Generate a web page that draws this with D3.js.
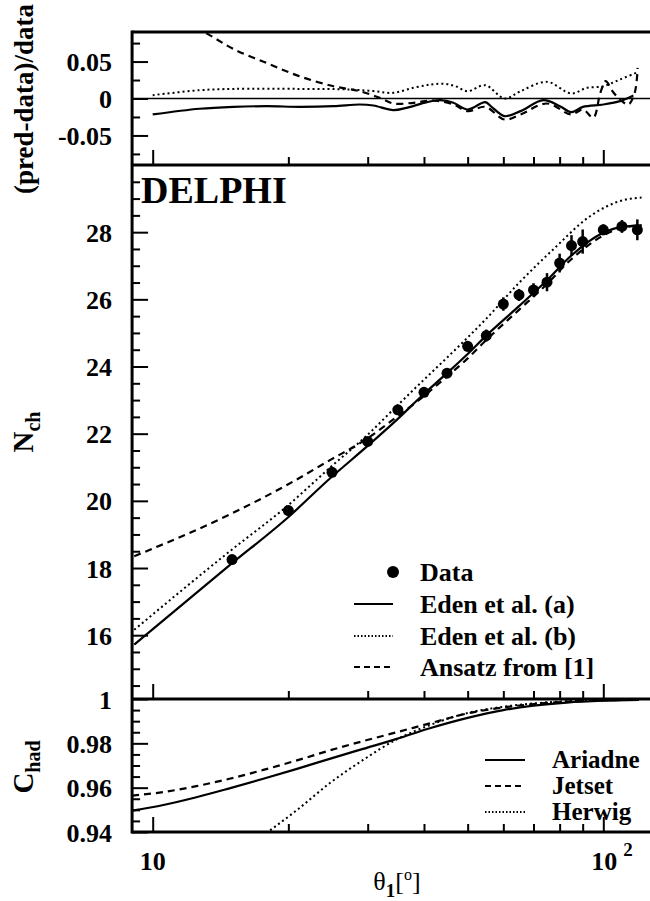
<!DOCTYPE html>
<html>
<head>
<meta charset="utf-8">
<script src="https://cdn.jsdelivr.net/npm/d3@7"></script>
<style>
body { margin: 0; background: #fff; }
svg text { font-family: "Liberation Serif", "Times New Roman", Times, "Nimbus Roman", "DejaVu Serif", serif !important; font-weight: bold; fill: #000; }
svg text .rm { font-weight: normal; }
</style>
</head>
<body>
<svg width="650" height="901"></svg>
<script>
// measured data points (theta in degrees, mean charged multiplicity)
var dataTheta = [15, 20, 25, 30, 35, 40, 45, 50, 55, 60, 65, 70, 75, 80, 85, 90, 100, 110, 119];
var dataNch   = [18.25, 19.71, 20.85, 21.77, 22.71, 23.23, 23.80, 24.60, 24.92, 25.86, 26.13, 26.28, 26.51, 27.08, 27.60, 27.72, 28.07, 28.17, 28.07];
var dataErr   = [0.1, 0.1, 0.1, 0.1, 0.12, 0.12, 0.13, 0.16, 0.18, 0.2, 0.18, 0.2, 0.27, 0.28, 0.31, 0.36, 0.16, 0.19, 0.31];

// predictions in the middle panel
var predTheta = [9.1, 14.8, 19.9, 24.8, 29.9, 34.8, 39.8, 44.8, 49.8, 54.7, 64.9, 74.5, 84.7, 100, 109.4, 121.6];
var edenA     = [15.72, 18.08, 19.49, 20.68, 21.62, 22.41, 23.16, 23.78, 24.35, 24.89, 25.79, 26.53, 27.29, 27.98, 28.15, 28.2];
var ansatz    = [18.35, 19.59, 20.48, 21.22, 21.85, 22.5, 23.1, 23.68, 24.22, 24.76, 25.68, 26.42, 27.18, 27.9, 28.12, 28.2];
var edenBTheta = [9.1, 14.8, 19.9, 24.8, 29.9, 34.8, 39.8, 44.8, 49.8, 54.7, 64.9, 77.9, 93.1, 111.2, 121.6];
var edenB      = [16.16, 18.49, 19.85, 21.0, 21.95, 22.82, 23.58, 24.24, 24.84, 25.39, 26.48, 27.52, 28.46, 28.96, 29.03];

// (pred-data)/data, top panel
var resATheta = [10, 12.7, 15.1, 17.9, 21.2, 25.2, 28.8, 30.9, 34.2, 36.6, 40.6, 43.5, 46.5, 50.0, 54.7, 56.5, 60.4, 65.5, 73.6, 80.1, 84.9, 90.1, 100, 108.9, 116.6];
var resA      = [-0.0216, -0.0139, -0.0113, -0.0104, -0.0113, -0.0104, -0.0081, -0.0095, -0.0158, -0.0126, -0.005, -0.0023, -0.0058, -0.0149, -0.005, -0.0113, -0.0239, -0.0171, -0.0023, -0.0104, -0.0185, -0.0113, -0.0081, -0.0036, 0.004];
var resBTheta = [10, 12.7, 15.1, 21.2, 27.4, 30.9, 34.2, 37.9, 41.5, 44.5, 47, 50, 54.7, 60.4, 65.5, 75.0, 84.9, 91.8, 100, 108.9, 118.3];
var resB      = [0.0045, 0.0112, 0.013, 0.013, 0.0122, 0.010, 0.0077, 0.0145, 0.019, 0.0198, 0.0166, 0.0099, 0.018, 0.0, 0.0099, 0.0225, 0.0068, 0.0144, 0.0166, 0.0257, 0.0347];
var resCTheta = [10, 11.5, 13.2, 15.1, 17.9, 21.2, 25.2, 28.8, 31.9, 34.2, 37.9, 41.9, 46.5, 50.0, 54.7, 60.4, 65.5, 75.0, 84.9, 90.1, 95.0, 98.5, 101.2, 104.8, 108.9, 113.7, 117.4, 119.2];
var resC      = [0.125, 0.105, 0.0878, 0.067, 0.048, 0.030, 0.0166, 0.0099, 0.001, -0.0068, -0.0058, -0.0027, -0.0081, -0.0171, -0.0113, -0.0284, -0.0216, -0.0068, -0.0216, -0.0149, -0.026, 0.0077, 0.0234, 0.0099, -0.0014, -0.008, 0.0077, 0.0415];

// hadronisation correction, bottom panel
var chadTheta = [9, 10.56, 12.5, 14.8, 17.6, 20.9, 24.7, 29.3, 34.8, 41.2, 50, 60, 70, 83, 100, 120];
var ariadne   = [0.9496, 0.9522, 0.9557, 0.9597, 0.964, 0.9685, 0.973, 0.9775, 0.982, 0.9868, 0.9915, 0.995, 0.997, 0.9984, 0.9992, 0.9996];
var jetset    = [0.9564, 0.958, 0.9607, 0.964, 0.968, 0.9723, 0.9768, 0.981, 0.985, 0.989, 0.9935, 0.9962, 0.9977, 0.9988, 0.9994, 0.9997];
var herwigTheta = [17.5, 18.05, 20.9, 24.7, 29.3, 34.8, 41.2, 50, 60, 70, 83, 100, 120];
var herwig      = [0.938, 0.9401, 0.9499, 0.962, 0.9725, 0.9818, 0.9882, 0.9937, 0.9965, 0.998, 0.999, 0.9995, 0.9998];

var legendMid = ["Data", "Eden et al. (a)", "Eden et al. (b)", "Ansatz from [1]"];
var legendBot = ["Ariadne", "Jetset", "Herwig"];

var zip = function(a, b) { return a.map(function(v, i) { return [v, b[i]]; }); };

var svg = d3.select("svg");

// shared log x axis
var x = d3.scaleLog().domain([10, 100]).range([152.7, 603.3]);
var xL = x(9), xR = 660;

var yTop = d3.scaleLinear().domain([-0.09, 0.09]).range([165, 32]);
var yMid = d3.scaleLinear().domain([14.1, 30]).range([699, 165]);
var yBot = d3.scaleLinear().domain([0.94, 1]).range([832, 699]);

var styles = {
    solid:  { dash: null, w: 2.2 },
    dashed: { dash: "7,5", w: 2.2 },
    dotted: { dash: "2,3", w: 2 }
};

// clip each panel
var defs = svg.append("defs");
[["clipTop", yTop], ["clipMid", yMid], ["clipBot", yBot]].forEach(function(p) {
    var r = p[1].range();
    defs.append("clipPath").attr("id", p[0])
        .append("rect")
        .attr("x", xL).attr("y", r[1])
        .attr("width", xR - xL).attr("height", r[0] - r[1]);
});

function drawCurve(g, y, pts, st, curve) {
    var line = d3.line()
        .x(function(d) { return x(d[0]); })
        .y(function(d) { return y(d[1]); })
        .curve(curve || d3.curveMonotoneX);
    g.append("path")
        .datum(pts)
        .attr("fill", "none")
        .attr("stroke", "#000")
        .attr("stroke-width", st.w)
        .attr("stroke-dasharray", st.dash)
        .attr("d", line);
}

// y axis: major ticks with labels, minor ticks without
function yAxis(y, major, minor, fmt) {
    svg.append("g")
        .attr("transform", "translate(" + xL + ",0)")
        .call(d3.axisLeft(y).tickValues(minor).tickSize(-8).tickFormat(""))
        .call(function(g) { g.select(".domain").remove(); })
        .selectAll("line").attr("stroke-width", 2);
    var g = svg.append("g")
        .attr("transform", "translate(" + xL + ",0)")
        .call(d3.axisLeft(y).tickValues(major).tickSize(-16).tickPadding(20).tickFormat(fmt));
    g.select(".domain").remove();
    g.selectAll("line").attr("stroke-width", 2);
    g.selectAll("text").attr("font-size", 26).attr("dy", "0.35em");
}

// x ticks along the bottom of each panel, pointing up
function xTicks(yPos) {
    var minor = [20, 30, 40, 50, 60, 70, 80, 90];
    svg.append("g")
        .attr("transform", "translate(0," + yPos + ")")
        .call(d3.axisBottom(x).tickValues(minor).tickSize(-8).tickFormat(""))
        .call(function(g) { g.select(".domain").remove(); })
        .selectAll("line").attr("stroke-width", 2);
    svg.append("g")
        .attr("transform", "translate(0," + yPos + ")")
        .call(d3.axisBottom(x).tickValues([10, 100]).tickSize(-15).tickFormat(""))
        .call(function(g) { g.select(".domain").remove(); })
        .selectAll("line").attr("stroke-width", 2);
}

// ---- top panel
var gTop = svg.append("g").attr("clip-path", "url(#clipTop)");
gTop.append("line")
    .attr("x1", xL).attr("x2", xR)
    .attr("y1", yTop(0)).attr("y2", yTop(0))
    .attr("stroke", "#000").attr("stroke-width", 1.5);
var smooth = d3.curveCatmullRom.alpha(0.5);
drawCurve(gTop, yTop, zip(resATheta, resA), styles.solid, smooth);
drawCurve(gTop, yTop, zip(resBTheta, resB), styles.dotted, smooth);
drawCurve(gTop, yTop, zip(resCTheta, resC), styles.dashed, smooth);
yAxis(yTop, [-0.05, 0, 0.05], [-0.075, -0.025, 0.025, 0.075],
      function(d) { return d === 0 ? "0" : d3.format(".2f")(d).replace("−", "-"); });
xTicks(165);

// ---- middle panel
var gMid = svg.append("g").attr("clip-path", "url(#clipMid)");
drawCurve(gMid, yMid, zip(predTheta, edenA), styles.solid);
drawCurve(gMid, yMid, zip(edenBTheta, edenB), styles.dotted);
drawCurve(gMid, yMid, zip(predTheta, ansatz), styles.dashed);

var pts = gMid.selectAll(".pt").data(dataTheta.map(function(t, i) {
    return { t: t, v: dataNch[i], e: dataErr[i] };
})).enter().append("g");
pts.append("line")
    .attr("x1", function(d) { return x(d.t); })
    .attr("x2", function(d) { return x(d.t); })
    .attr("y1", function(d) { return yMid(d.v - d.e); })
    .attr("y2", function(d) { return yMid(d.v + d.e); })
    .attr("stroke", "#000").attr("stroke-width", 2.5);
pts.append("circle")
    .attr("cx", function(d) { return x(d.t); })
    .attr("cy", function(d) { return yMid(d.v); })
    .attr("r", 5.5).attr("fill", "#000");

var midMinor = d3.range(14.5, 30.01, 0.5).filter(function(v) { return v % 2 !== 0; });
yAxis(yMid, [16, 18, 20, 22, 24, 26, 28], midMinor, d3.format("d"));
xTicks(699);

svg.append("text").attr("x", 141).attr("y", 203).attr("font-size", 38).text("DELPHI");

// middle legend
var legM = svg.append("g");
var lmY = [572, 604, 636, 667];
var lmStyle = [null, styles.solid, { dash: "1.5,2", w: 2 }, { dash: "6,4", w: 2 }];
legendMid.forEach(function(name, i) {
    if (i === 0) {
        legM.append("circle").attr("cx", 393).attr("cy", lmY[i]).attr("r", 6).attr("fill", "#000");
    } else {
        legM.append("line")
            .attr("x1", 354).attr("x2", 393)
            .attr("y1", lmY[i]).attr("y2", lmY[i])
            .attr("stroke", "#000").attr("stroke-width", lmStyle[i].w)
            .attr("stroke-dasharray", lmStyle[i].dash);
    }
    legM.append("text").attr("x", 420).attr("y", lmY[i] + 9).attr("font-size", 26).text(name);
});

// ---- bottom panel
var gBot = svg.append("g").attr("clip-path", "url(#clipBot)");
drawCurve(gBot, yBot, zip(chadTheta, ariadne), styles.solid);
drawCurve(gBot, yBot, zip(chadTheta, jetset), styles.dashed);
drawCurve(gBot, yBot, zip(herwigTheta, herwig), styles.dotted);

var botMinor = d3.range(0.945, 1.0, 0.005).filter(function(v) { return Math.abs(v * 50 - Math.round(v * 50)) > 0.01; });
yAxis(yBot, [0.94, 0.96, 0.98, 1], botMinor, function(d) { return d === 1 ? "1" : d3.format(".2f")(d); });
xTicks(832);

var legB = svg.append("g");
var lbY = [760, 786, 812];
var lbStyle = [styles.solid, { dash: "6,4", w: 2 }, { dash: "1.5,2", w: 2 }];
legendBot.forEach(function(name, i) {
    legB.append("line")
        .attr("x1", 485).attr("x2", 525)
        .attr("y1", lbY[i]).attr("y2", lbY[i])
        .attr("stroke", "#000").attr("stroke-width", lbStyle[i].w)
        .attr("stroke-dasharray", lbStyle[i].dash);
    legB.append("text").attr("x", 552).attr("y", lbY[i] + 8).attr("font-size", 25).text(name);
});

// ---- frame
var frame = svg.append("g").attr("stroke", "#000").attr("stroke-width", 3);
frame.append("line").attr("x1", xL).attr("x2", xL).attr("y1", 30.5).attr("y2", 833.5);
[32, 165, 699, 832].forEach(function(yy) {
    frame.append("line").attr("x1", xL).attr("x2", xR).attr("y1", yy).attr("y2", yy);
});

// x tick labels
var xLabels = svg.append("g");
xLabels.append("text").attr("x", x(10)).attr("y", 870).attr("font-size", 26)
    .attr("text-anchor", "middle").text("10");
var t100 = xLabels.append("text").attr("x", x(100) - 12).attr("y", 870).attr("font-size", 26);
t100.append("tspan").text("10");
t100.append("tspan").attr("dx", 6).attr("dy", -14).attr("font-size", 19).text("2");

// axis titles
var xt = svg.append("text").attr("x", 397).attr("y", 890).attr("text-anchor", "middle").attr("font-size", 26);
xt.append("tspan").attr("class", "rm").text("θ");
xt.append("tspan").attr("font-size", 19).attr("dy", 7).text("1");
xt.append("tspan").attr("class", "rm").attr("dy", -7).text("[");
xt.append("tspan").attr("class", "rm").attr("font-size", 16).attr("dy", -10).text("o");
xt.append("tspan").attr("class", "rm").attr("dy", 10).text("]");

svg.append("text")
    .attr("transform", "translate(33,99) rotate(-90)")
    .attr("text-anchor", "middle").attr("font-size", 27)
    .text("(pred-data)/data");

var nt = svg.append("text")
    .attr("transform", "translate(33,432) rotate(-90)")
    .attr("text-anchor", "middle").attr("font-size", 29);
nt.append("tspan").text("N");
nt.append("tspan").attr("font-size", 20).attr("dy", 7).text("ch");

var ct = svg.append("text")
    .attr("transform", "translate(33,767) rotate(-90)")
    .attr("text-anchor", "middle").attr("font-size", 29);
ct.append("tspan").text("C");
ct.append("tspan").attr("font-size", 20).attr("dy", 7).text("had");
</script>
</body>
</html>
